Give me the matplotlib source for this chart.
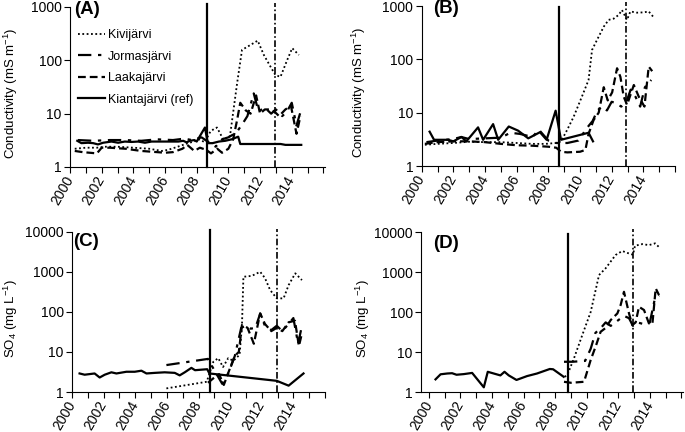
import matplotlib
matplotlib.use('Agg')
import matplotlib.pyplot as plt
from matplotlib.ticker import FixedLocator, NullLocator, FixedFormatter

plt.rcParams['font.family'] = ['Liberation Sans', 'DejaVu Sans']
plt.rcParams['mathtext.fontset'] = 'custom'
plt.rcParams['mathtext.rm'] = 'Liberation Sans'
plt.rcParams['mathtext.it'] = 'Liberation Sans:italic'
plt.rcParams['mathtext.default'] = 'regular'

# ---------------- data ----------------
series_names = ['Kivijärvi', 'Jormasjärvi', 'Laakajärvi', 'Kiantajärvi (ref)']
panel_labels = ['(A)', '(B)', '(C)', '(D)']
ylabels = ['Conductivity (mS m$^{-1}$)', 'Conductivity (mS m$^{-1}$)',
           'SO$_4$ (mg L$^{-1}$)', 'SO$_4$ (mg L$^{-1}$)']
x_ticks = list(range(2000, 2017))
x_ticklabels = ['2000', '', '2002', '', '2004', '', '2006', '', '2008', '',
                '2010', '', '2012', '', '2014', '', '']
y_ticks_cond = [1, 10, 100, 1000]
y_ticks_so4 = [1, 10, 100, 1000, 10000]

# vertical event lines (year)
event_solid = [2008.65, 2008.7, 2008.73, 2008.82]
event_dashdot = [2012.95, 2012.93, 2012.95, 2012.95]

# Panel A - conductivity, site 1
A_kivi_x = [2000.3, 2001.0, 2001.7, 2002.2, 2003.0, 2004.0, 2005.0, 2005.8, 2006.2, 2006.8,
            2007.3, 2007.8, 2008.2, 2008.5, 2008.86, 2009.1, 2009.28, 2009.7, 2010.1,
            2010.55, 2010.86, 2011.39, 2011.85, 2012.24, 2012.66, 2012.97, 2013.29,
            2013.71, 2014.03, 2014.45]
A_kivi_y = [2.2, 2.3, 2.3, 2.4, 2.4, 2.3, 2.2, 2.0, 2.1, 2.4, 2.7, 3.0, 3.3, 2.9, 4.6,
            5.2, 5.5, 3.2, 3.8, 37, 157, 194, 234, 126, 76, 53, 49, 101, 169, 126]
A_jorm_x = [2000.5, 2001.5, 2002.5, 2003.5, 2004.5, 2005.5, 2006.5, 2007.2, 2007.7, 2008.3,
            2008.7, 2009.2, 2009.6, 2010.0, 2010.5, 2010.9, 2011.2, 2011.6, 2011.9, 2012.3,
            2012.7, 2013.0, 2013.4, 2013.7, 2014.0, 2014.3, 2014.6]
A_jorm_y = [3.2, 3.1, 3.2, 3.2, 3.1, 3.3, 3.2, 3.4, 3.2, 3.6, 3.0, 2.4, 3.3, 3.6, 4.4,
            6.5, 9.0, 24, 11, 13, 10, 12, 9, 11, 16, 6, 12]
A_laak_x = [2000.3, 2000.8, 2001.7, 2002.0, 2002.5, 2003.5, 2004.5, 2005.5, 2006.0, 2006.5,
            2007.1, 2007.4, 2007.85, 2008.2, 2008.6, 2008.9, 2009.3, 2009.6, 2010.0, 2010.3,
            2010.55, 2010.75, 2011.1, 2011.4, 2011.75, 2012.0, 2012.3, 2012.6, 2012.9,
            2013.2, 2013.6, 2013.95, 2014.3, 2014.55]
A_laak_y = [2.0, 1.9, 1.8, 2.3, 2.3, 2.2, 2.0, 1.9, 1.85, 1.9, 2.2, 2.6, 2.0, 2.3, 2.1,
            1.8, 2.2, 1.85, 2.2, 3.3, 7.6, 16, 11.5, 10, 22, 10, 12, 12, 11, 9, 12, 14,
            4.2, 9]
A_kian_x = [2000.46, 2000.72, 2001.14, 2001.46, 2001.77, 2002.09, 2002.62, 2003.04, 2003.46,
            2003.88, 2004.3, 2004.73, 2005.15, 2005.57, 2006.0, 2006.41, 2006.84, 2007.15,
            2007.36, 2007.57, 2007.85, 2008.0, 2008.52, 2008.7, 2009.0, 2009.4, 2009.8,
            2010.2, 2010.62, 2010.75, 2011.5, 2012.5, 2013.3, 2013.6, 2014.6]
A_kian_y = [3.1, 2.8, 2.85, 2.8, 2.65, 2.85, 3.0, 2.85, 3.0, 2.95, 3.0, 2.85, 3.0, 3.0,
            3.0, 3.0, 3.0, 3.1, 2.9, 3.1, 3.2, 3.0, 5.5, 2.8, 2.8, 3.0, 3.1, 3.3, 3.7,
            2.7, 2.7, 2.7, 2.7, 2.6, 2.6]

# Panel B - conductivity, site 2
B_kivi_x = [2000.2, 2001.0, 2002.0, 2003.0, 2004.0, 2005.0, 2006.0, 2007.0, 2007.8, 2008.5,
            2008.8, 2009.18, 2009.6, 2010.12, 2010.54, 2010.76, 2011.07, 2011.5, 2011.81,
            2012.13, 2012.44, 2012.65, 2012.97, 2013.18, 2013.6, 2014.03, 2014.34, 2014.62]
B_kivi_y = [2.5, 2.6, 2.7, 2.85, 2.8, 2.8, 2.7, 2.6, 2.6, 2.7, 2.9, 4.7, 8.4, 20, 41, 150,
            230, 410, 550, 580, 680, 840, 550, 790, 750, 760, 790, 630]
B_jorm_x = [2000.3, 2001.0, 2002.0, 2002.5, 2003.0, 2004.0, 2005.0, 2005.6, 2006.2, 2007.0,
            2007.4, 2008.0, 2008.5, 2009.2, 2009.9, 2010.4, 2010.8, 2011.1, 2011.4, 2011.7,
            2012.0, 2012.3, 2012.6, 2012.9, 2013.2, 2013.5, 2013.8, 2014.1, 2014.5]
B_jorm_y = [2.8, 3.0, 3.2, 3.5, 3.2, 3.3, 3.4, 4.2, 4.0, 3.5, 4.8, 3.0, 2.7, 2.7, 3.0,
            5.0, 7.0, 11, 13, 11, 16, 15, 13, 15, 27, 20, 13, 30, 41]
B_laak_x = [2000.2, 2001.0, 2002.0, 2003.0, 2004.0, 2005.0, 2006.0, 2007.0, 2008.0, 2008.5,
            2008.8, 2009.2, 2010.0, 2010.34, 2010.54, 2010.86, 2011.18, 2011.5, 2011.75,
            2012.03, 2012.34, 2012.55, 2012.76, 2012.97, 2013.4, 2013.71, 2014.07, 2014.34,
            2014.56]
B_laak_y = [2.6, 2.8, 2.9, 2.9, 2.8, 2.6, 2.45, 2.4, 2.3, 2.2, 1.85, 1.8, 1.85, 2.0, 4.0,
            7.3, 10, 30, 17, 24, 68, 47, 20, 14, 33, 20, 13, 73, 60]
B_kian_x = [2000.5, 2000.78, 2001.66, 2002.0, 2002.51, 2002.82, 2003.56, 2003.88, 2004.51,
            2004.83, 2005.5, 2006.09, 2006.73, 2007.47, 2007.89, 2008.46, 2008.8, 2010.54,
            2010.82]
B_kian_y = [4.4, 3.1, 3.1, 2.9, 3.5, 2.9, 5.3, 3.1, 6.1, 3.1, 5.5, 4.6, 3.3, 4.3, 3.1,
            10.9, 3.1, 4.2, 2.9]

# Panel C - sulphate, site 1
C_kivi_x = [2005.97, 2008.52, 2008.94, 2009.25, 2009.55, 2009.88, 2010.2, 2010.6, 2010.75,
            2010.84, 2011.37, 2011.9, 2012.2, 2012.53, 2012.95, 2013.38, 2013.7, 2014.12,
            2014.54]
C_kivi_y = [1.23, 1.8, 5.7, 7.0, 4.2, 7.0, 6.0, 8.5, 47, 750, 790, 1000, 700, 350, 217,
            217, 465, 915, 620]
C_jorm_x = [2005.97, 2008.6, 2009.0, 2009.5, 2009.9, 2010.3, 2010.7, 2011.0, 2011.3, 2011.6,
            2011.9, 2012.2, 2012.6, 2012.95, 2013.3, 2013.7, 2014.0, 2014.3, 2014.55]
C_jorm_y = [4.7, 6.7, 3.5, 1.6, 3.0, 8.0, 40, 45, 38, 40, 90, 45, 35, 45, 33, 50, 70, 16,
            47]
C_laak_x = [2008.6, 2009.0, 2009.3, 2009.6, 2010.0, 2010.3, 2010.55, 2010.75, 2011.1,
            2011.5, 2011.9, 2012.2, 2012.6, 2012.95, 2013.3, 2013.7, 2014.1, 2014.35, 2014.55]
C_laak_y = [1.7, 2.3, 2.8, 1.5, 4.0, 8.0, 10, 47, 40, 16, 92, 50, 33, 40, 33, 55, 60, 14,
            30]
C_kian_x = [2000.48, 2000.8, 2001.43, 2001.75, 2002.07, 2002.49, 2002.81, 2003.44, 2003.97,
            2004.39, 2004.71, 2005.23, 2005.86, 2006.5, 2006.81, 2007.13, 2007.55, 2007.78,
            2008.55, 2008.69, 2012.95, 2013.7, 2014.64]
C_kian_y = [2.9, 2.7, 2.9, 2.3, 2.7, 3.1, 2.9, 3.2, 3.2, 3.4, 2.9, 3.0, 3.1, 3.0, 2.6,
            3.1, 4.0, 3.5, 3.7, 2.9, 1.9, 1.44, 2.9]

# Panel D - sulphate, site 2
D_kivi_x = [2008.6, 2008.77, 2009.19, 2009.72, 2010.25, 2010.78, 2011.2, 2011.83, 2012.25,
            2012.68, 2012.93, 2013.06, 2013.52, 2013.94, 2014.33, 2014.58]
D_kivi_y = [2.4, 2.66, 6.9, 26.6, 100, 840, 1240, 2660, 3350, 2900, 2700, 4540, 4980,
            4700, 5200, 4200]
D_jorm_x = [2008.56, 2009.1, 2009.9, 2010.25, 2010.55, 2010.9, 2011.2, 2011.52, 2011.94,
            2012.36, 2012.68, 2012.93, 2013.2, 2013.6, 2014.0, 2014.3, 2014.58]
D_jorm_y = [5.7, 5.7, 6.0, 12, 30, 40, 55, 45, 60, 80, 70, 45, 55, 50, 55, 200, 260]
D_laak_x = [2008.56, 2009.0, 2009.83, 2010.25, 2010.6, 2010.88, 2011.2, 2011.52, 2011.94,
            2012.15, 2012.36, 2012.68, 2012.89, 2013.1, 2013.31, 2013.63, 2013.94, 2014.16,
            2014.37, 2014.58]
D_laak_y = [1.8, 1.7, 1.8, 6.3, 15, 32, 40, 63, 92, 150, 320, 92, 47, 55, 135, 112, 52,
            50, 390, 265]
D_kian_x = [2000.42, 2000.74, 2001.16, 2001.47, 2001.75, 2002.21, 2002.74, 2003.48, 2003.73,
            2004.11, 2004.53, 2004.79, 2005.06, 2005.55, 2006.22, 2006.85, 2007.66, 2007.87,
            2008.54]
D_kian_y = [2.07, 2.77, 2.9, 2.95, 2.7, 2.8, 3.0, 1.31, 3.2, 2.9, 2.6, 3.2, 2.6, 2.0, 2.5,
            2.9, 3.76, 3.7, 2.4]

panels = [
    [(A_kivi_x, A_kivi_y), (A_jorm_x, A_jorm_y), (A_laak_x, A_laak_y), (A_kian_x, A_kian_y)],
    [(B_kivi_x, B_kivi_y), (B_jorm_x, B_jorm_y), (B_laak_x, B_laak_y), (B_kian_x, B_kian_y)],
    [(C_kivi_x, C_kivi_y), (C_jorm_x, C_jorm_y), (C_laak_x, C_laak_y), (C_kian_x, C_kian_y)],
    [(D_kivi_x, D_kivi_y), (D_jorm_x, D_jorm_y), (D_laak_x, D_laak_y), (D_kian_x, D_kian_y)],
]

# ---------------- styling / layout ----------------
W, H = 685, 432
styles = [
    dict(linestyle=(0, (1, 1.4)), lw=1.3),
    dict(linestyle=(0, (6, 3, 1.5, 3)), lw=1.6),
    dict(linestyle=(0, (3.5, 1.8)), lw=1.6),
    dict(linestyle='-', lw=1.6),
]
# axes boxes in pixels: left, top, right, bottom
boxes = [(70, 7, 325, 167), (421.7, 6, 675, 166), (72, 231.7, 325, 392), (421, 232, 683, 392)]
xlims = [(2000, 2016.1), (2000, 2016.0), (2000, 2016.0), (1999.5, 2016.1)]
ylabel_x = [-0.196, -0.212, -0.205, -0.187]
plabel_x = [0.016, 0.045, 0.004, 0.046]
plabel_y = [1.035, 1.035, 0.995, 0.98]
vtop_solid = [1140, 950, 11000, 9000]
vtop_dd = [1190, 1190, 11500, 11700]

fig = plt.figure(figsize=(W / 100, H / 100), dpi=100)
for i in range(4):
    l, t, r, b = boxes[i]
    ax = fig.add_axes([l / W, 1 - b / H, (r - l) / W, (b - t) / H])
    for (xs, ys), name, st in zip(panels[i], series_names, styles):
        ax.plot(xs, ys, color='black', label=name, **st)
    ax.set_yscale('log')
    yt = y_ticks_cond if i < 2 else y_ticks_so4
    ax.set_ylim(yt[0], yt[-1])
    ax.yaxis.set_major_locator(FixedLocator(yt))
    ax.yaxis.set_major_formatter(FixedFormatter([str(v) for v in yt]))
    ax.yaxis.set_minor_locator(NullLocator())
    ax.set_xlim(*xlims[i])
    ax.set_xticks(x_ticks)
    ax.set_xticklabels(x_ticklabels, rotation=60, ha='right', va='center',
                       rotation_mode='anchor')
    ax.tick_params(axis='both', direction='out', length=4, width=0.8, labelsize=10,
                   colors='black')
    ax.tick_params(axis='x', pad=3)
    ax.tick_params(axis='y', pad=2)
    for s in ['top', 'right']:
        ax.spines[s].set_visible(False)
    for s in ['left', 'bottom']:
        ax.spines[s].set_linewidth(0.8)
    ax.plot([event_solid[i]] * 2, [yt[0], vtop_solid[i]], color='black', lw=1.6,
            clip_on=False)
    ax.plot([event_dashdot[i]] * 2, [yt[0], vtop_dd[i]], color='black', lw=1.2,
            linestyle=(0, (4, 1.5, 1, 1.5)), clip_on=False)
    ax.set_ylabel(ylabels[i], fontsize=9.5)
    ax.yaxis.set_label_coords(ylabel_x[i], 0.46)
    ax.text(plabel_x[i], plabel_y[i], panel_labels[i], transform=ax.transAxes,
            fontsize=13.5, fontweight='bold', ha='left', va='top')
    if i == 0:
        ax.legend(loc='upper left', bbox_to_anchor=(0.03, 0.86), frameon=False,
                  fontsize=9, handlelength=2.2, handletextpad=0.2, borderpad=0,
                  borderaxespad=0, labelspacing=0.75)

fig.savefig('out.png', dpi=100)
